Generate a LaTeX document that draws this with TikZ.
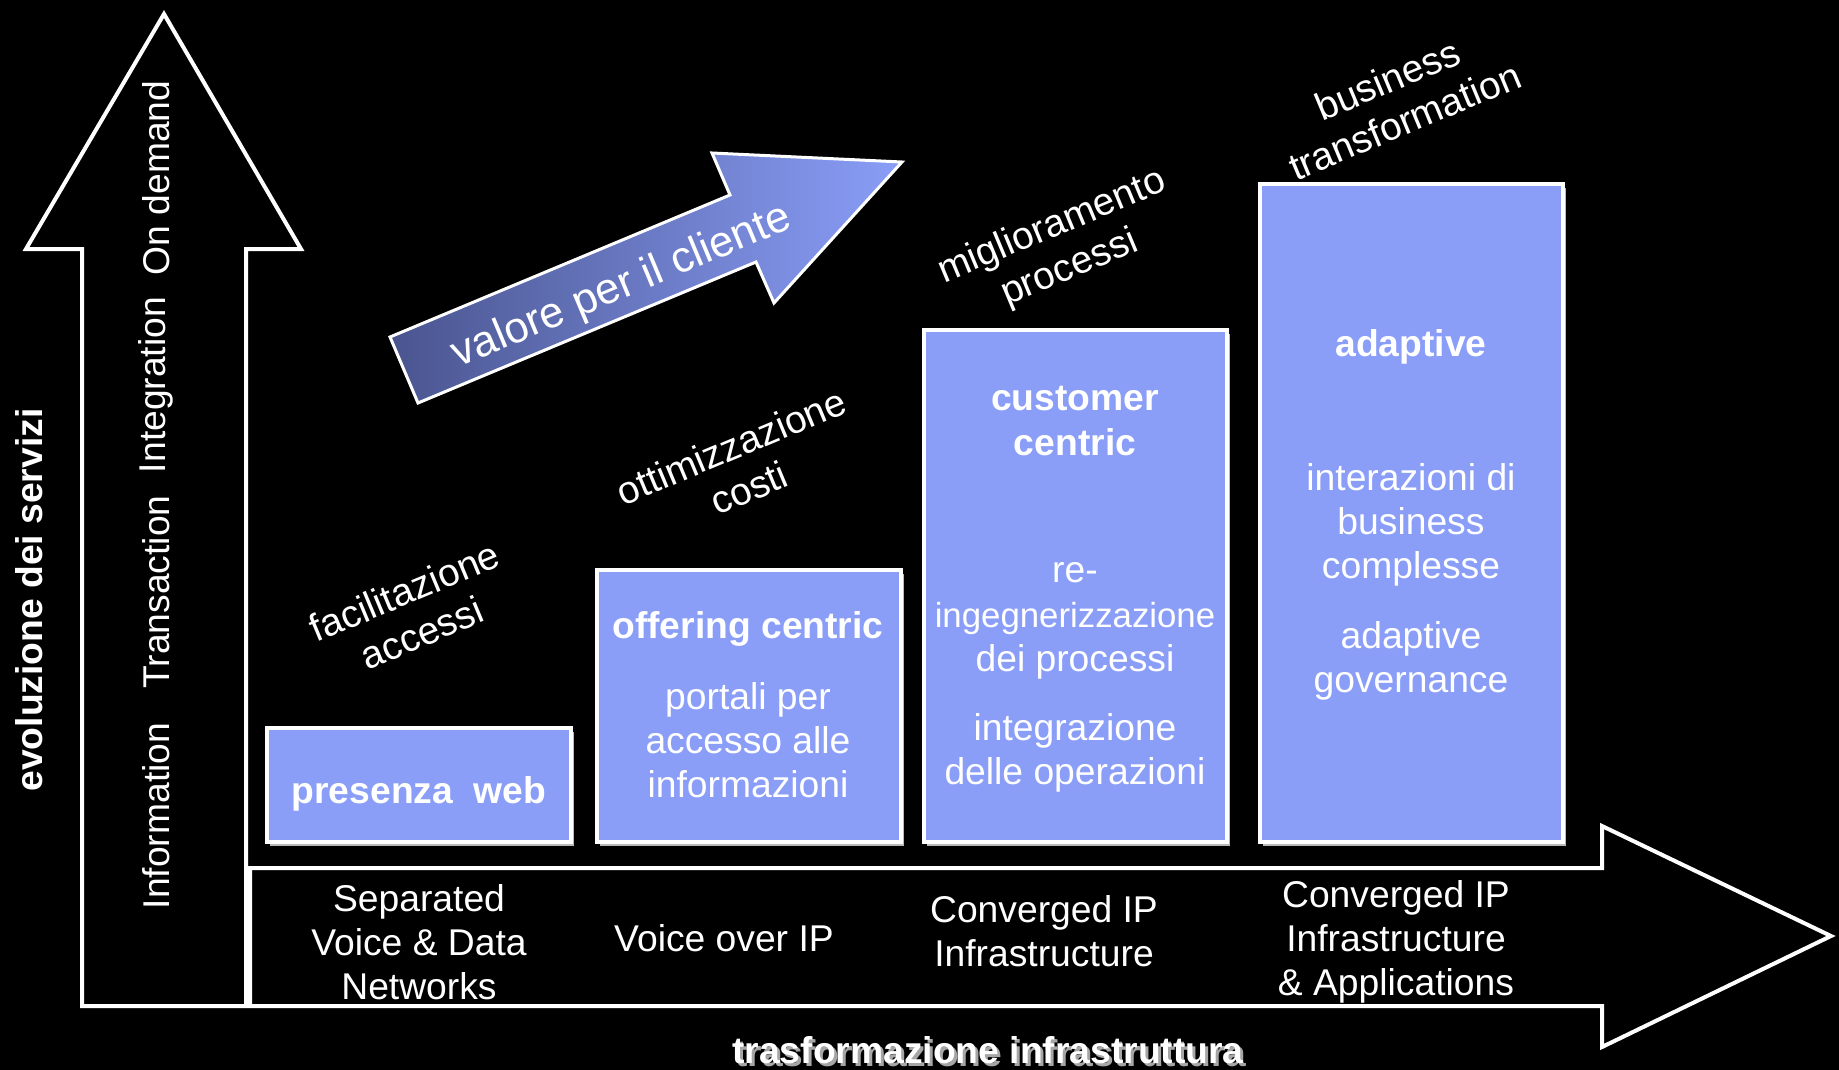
\documentclass[tikz,border=0pt]{standalone}
\usepackage{fontspec}
\setmainfont{Liberation Sans}
\definecolor{boxblue}{HTML}{8A9EF8}
\definecolor{arrdark}{HTML}{4A558F}
\begin{document}
\begin{tikzpicture}[x=0.1mm,y=-0.1mm,
  outline/.style={draw=white, line width=0.4mm, line join=miter},
  stage/.style={fill=boxblue, draw=white, line width=0.4mm},
  shadowbox/.style={fill=gray!55},
  lbl/.style={text=white, align=center, inner sep=0pt, font=\fontsize{10.6}{12.6}\selectfont},
  blbl/.style={text=white, align=center, inner sep=0pt, font=\bfseries\fontsize{10.6}{12.6}\selectfont},
  rlbl/.style={text=white, align=center, inner sep=0pt, font=\fontsize{11}{12.8}\selectfont, rotate=22.7},
  vlbl/.style={text=white, inner sep=0pt, rotate=90, font=\fontsize{10.6}{12.6}\selectfont}]
% background and bounding box
\fill[black] (0,0) rectangle (1839,1070);
\useasboundingbox (0,0) rectangle (1839,1070);

% vertical arrow
\draw[outline] (82,1006) -- (82,249) -- (26,249) -- (164,14) -- (301,249) -- (246,249) -- (246,1006) -- cycle;
% horizontal arrow
\draw[outline] (250,868) -- (1602,868) -- (1602,826) -- (1831,936) -- (1602,1047) -- (1602,1006) -- (250,1006) -- cycle;

% gradient arrow
\shade[left color=arrdark, right color=boxblue]
  (390,337) -- (730,195) -- (712,153) -- (902,162) -- (774,303) -- (756,262) -- (418,403) -- cycle;
\draw[white, line width=0.3mm, line join=miter]
  (390,337) -- (730,195) -- (712,153) -- (902,162) -- (774,303) -- (756,262) -- (418,403) -- cycle;
\node[text=white, inner sep=0pt, rotate=22.7, font=\fontsize{12.4}{14}\selectfont] (valore) at (622,287) {valore per il cliente};

% stage boxes
\fill[shadowbox] (270,732) rectangle (574,846);
\draw[stage] (267,728) rectangle (571,842);
\fill[shadowbox] (600,574) rectangle (904,846);
\draw[stage] (597,570) rectangle (901,842);
\fill[shadowbox] (927,334) rectangle (1230,846);
\draw[stage] (924,330) rectangle (1227,842);
\fill[shadowbox] (1263,188) rectangle (1566,846);
\draw[stage] (1260,184) rectangle (1563,842);

% box texts
\node[blbl] (pw) at (419,794) {presenza\ \ web};
\node[blbl] (oc) at (748,629) {offering centric};
\node[lbl] (oct) at (748,740) {portali per\\accesso alle\\informazioni};
\node[blbl] (cc) at (1075,421) {customer\\centric};
\node[lbl] (cct1) at (1075,621) {re-\\{\fontsize{9.9}{12.2}\selectfont ingegnerizzazione}\\dei processi};
\node[lbl] (cct2) at (1075,753) {integrazione\\delle operazioni};
\node[blbl] (ad) at (1411,347) {adaptive};
\node[lbl] (adt1) at (1411,525) {interazioni di\\business\\complesse};
\node[lbl] (adt2) at (1411,661) {adaptive\\governance};

% infrastructure texts
\node[lbl] (i1) at (419,942) {Separated\\Voice \& Data\\Networks};
\node[lbl] (i2) at (724,938) {Voice over IP};
\node[lbl] (i3) at (1044,931) {Converged IP\\Infrastructure};
\node[lbl] (i4) at (1396,942) {Converged IP\\Infrastructure\\\& Applications};

% axis titles
\node[text=gray!70, inner sep=0pt, font=\bfseries\fontsize{10.6}{12.6}\selectfont] (xtsh) at (991,1053) {trasformazione infrastruttura};
\node[text=white, inner sep=0pt, font=\bfseries\fontsize{10.6}{12.6}\selectfont] (xt) at (988,1050) {trasformazione infrastruttura};
\node[text=white, inner sep=0pt, rotate=90, font=\bfseries\fontsize{10.6}{12.6}\selectfont] (yt) at (29,600) {evoluzione dei servizi};

% service levels
\node[vlbl] (s1) at (156,816) {Information};
\node[vlbl] (s2) at (156,592) {Transaction};
\node[vlbl] (s3) at (156,385) {Integration};
\node[vlbl] (s4) at (156,178) {On demand};

% benefits
\node[rlbl] (r1) at (413,612) {facilitazione\\accessi};
\node[rlbl] (r2) at (740,467) {ottimizzazione\\costi};
\node[rlbl] (r3) at (1061,248) {miglioramento\\processi};
\node[rlbl] (r4) at (1396,100) {business\\transformation};
\end{tikzpicture}
\end{document}
